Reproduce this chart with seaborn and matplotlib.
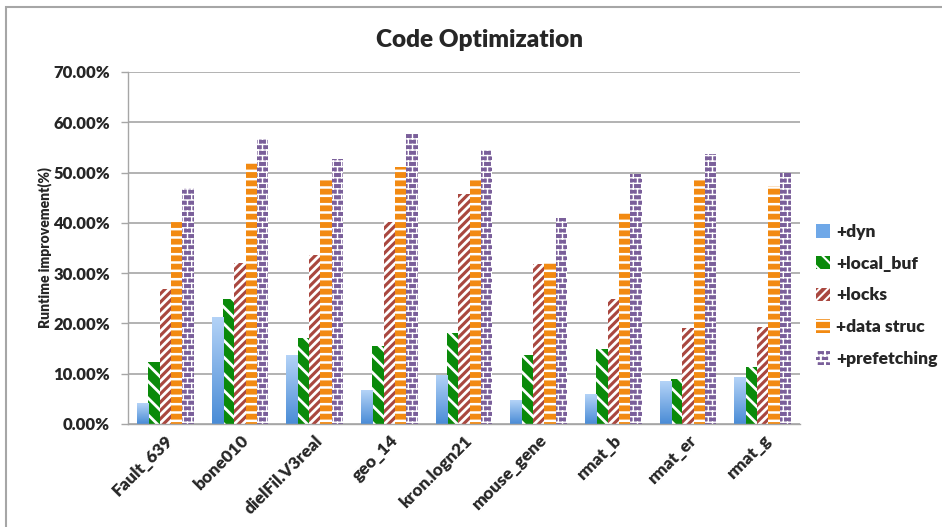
import warnings
import numpy as np
import pandas as pd
import matplotlib
matplotlib.use("Agg")
import matplotlib.pyplot as plt
from matplotlib import hatch as mhatch
from matplotlib.path import Path
from matplotlib.patches import Rectangle
from matplotlib.ticker import MultipleLocator, FuncFormatter
import seaborn as sns

warnings.filterwarnings("ignore")

# ---- data -------------------------------------------------------------
graphs = ["Fault_639", "bone010", "dielFil.V3real", "geo_14", "kron.logn21",
          "mouse_gene", "rmat_b", "rmat_er", "rmat_g"]
steps = ["+dyn", "+local_buf", "+locks", "+data struc", "+prefetching"]

dyn = [4.1, 21.3, 13.7, 6.7, 9.8, 4.7, 5.9, 8.5, 9.3]
local_buf = [12.4, 24.9, 17.1, 15.6, 18.0, 13.7, 15.0, 8.9, 11.3]
locks = [26.8, 32.1, 33.7, 40.1, 45.7, 31.8, 24.8, 19.0, 19.3]
data_struc = [40.6, 52.1, 48.7, 51.1, 48.6, 32.3, 42.1, 48.8, 47.3]
prefetching = [47.0, 56.7, 52.7, 57.9, 54.4, 40.9, 49.7, 53.7, 50.0]

colors = ["#6FA8E8", "#0A8A0A", "#A9473F", "#F28A12", "#7A5F9A"]
hatches = ["", "\\\\", "////", "--", "bbb"]
hatch_widths = [1.0, 2.0, 2.0, 1.8, 1.0]


# ---- brick hatch pattern ---------------------------------------------
class BrickHatch(mhatch.HatchPatternBase):
    def __init__(self, hatch, density):
        self.num_rows = int(hatch.count("b") * density)
        self.num_cols = int(self.num_rows * 2 // 3)
        if self.num_rows:
            self.num_vertices = (self.num_rows + 1) * 2 + self.num_rows * self.num_cols * 2
        else:
            self.num_vertices = 0

    def set_vertices_and_codes(self, vertices, codes):
        n, m = self.num_rows, self.num_cols
        k = 0
        for i in range(n + 1):
            y = i / n
            vertices[k] = (0.0, y); codes[k] = Path.MOVETO; k += 1
            vertices[k] = (1.0, y); codes[k] = Path.LINETO; k += 1
        for i in range(n):
            off = 0.5 * (i % 2)
            for j in range(m):
                x = ((j + off) / m) % 1.0
                vertices[k] = (x, i / n); codes[k] = Path.MOVETO; k += 1
                vertices[k] = (x, (i + 1) / n); codes[k] = Path.LINETO; k += 1


mhatch._hatch_types.append(BrickHatch)


def style_patch(p, color, hatch, hw):
    p.set_facecolor(color)
    p.set_hatch(hatch)
    p.set_edgecolor("white")
    p.set_linewidth(0)
    if hasattr(p, "set_hatch_linewidth"):
        p.set_hatch_linewidth(hw)


# ---- style ------------------------------------------------------------
sns.set_theme(style="white")
plt.rcParams["font.family"] = ["Lato", "DejaVu Sans"]
plt.rcParams["font.weight"] = "heavy"
plt.rcParams["hatch.color"] = "white"
plt.rcParams["hatch.linewidth"] = 1.5

df = pd.DataFrame({
    "graph": np.repeat(graphs, len(steps)),
    "step": steps * len(graphs),
    "value": np.column_stack([dyn, local_buf, locks, data_struc, prefetching]).ravel(),
})

fig = plt.figure(figsize=(9.42, 5.27), dpi=100)
ax = fig.add_axes([128 / 942, 1 - 424 / 527, 672 / 942, 352 / 527])

sns.barplot(data=df, x="graph", y="value", hue="step", order=graphs,
            hue_order=steps, palette=colors, width=0.76, saturation=1,
            errorbar=None, ax=ax, legend=False)

# hatch fill per series and gradient on the first series
for cont, col, h, hw in zip(ax.containers, colors, hatches, hatch_widths):
    for p in cont.patches:
        style_patch(p, col, h, hw)
grad = np.linspace(0, 1, 64).reshape(-1, 1)
cmap_dyn = matplotlib.colors.LinearSegmentedColormap.from_list(
    "dyn", ["#4A8CD6", "#B4D3F7"])
for p in ax.containers[0].patches:
    x0, y0 = p.get_x(), p.get_y()
    w, hgt = p.get_width(), p.get_height()
    im = ax.imshow(grad, cmap=cmap_dyn, aspect="auto", origin="lower",
                   extent=[x0, x0 + w, y0, y0 + hgt], zorder=p.get_zorder())
    im.set_clip_path(p)
ax.set_xlim(-0.5, len(graphs) - 0.5)

ax.set_ylim(0, 70)
ax.yaxis.set_major_locator(MultipleLocator(10))
ax.yaxis.set_major_formatter(FuncFormatter(lambda v, _: f"{v:.2f}%"))
ax.grid(axis="y", color="#A6A6A6", linewidth=1.2)
ax.set_axisbelow(True)
for s in ["top", "right"]:
    ax.spines[s].set_visible(False)
for s in ["left", "bottom"]:
    ax.spines[s].set_color("#A6A6A6")
    ax.spines[s].set_linewidth(1.0)

ax.set_xticks(np.arange(len(graphs) + 1) - 0.5, minor=True)
ax.tick_params(axis="x", which="major", length=0, pad=6)
ax.tick_params(axis="x", which="minor", length=5, color="#A6A6A6", width=1, direction="out")
ax.tick_params(axis="y", length=5, color="#A6A6A6", width=1, direction="out",
               left=True, labelsize=12, pad=8)
ax.set_xticks(range(len(graphs)))
ax.set_xticklabels(graphs, rotation=45, ha="right", rotation_mode="anchor",
                   fontsize=12.5, fontweight="heavy")
for t in ax.get_yticklabels():
    t.set_fontweight("heavy")
ax.set_xlabel("")
ax.set_ylabel("Runtime improvement(%)", fontsize=10, fontweight="heavy", labelpad=1)

fig.suptitle("Code Optimization", x=479 / 942, y=1 - 40 / 527, va="center",
             fontsize=17.5, fontweight="heavy")

handles = []
for c, h, hw in zip(colors, hatches, hatch_widths):
    r = Rectangle((0, 0), 1, 1)
    style_patch(r, c, h, hw)
    handles.append(r)
fig.legend(handles, steps, loc="upper left", bbox_to_anchor=(809 / 942, 1 - 217 / 527),
           frameon=False, handlelength=0.8, handleheight=0.8,
           labelspacing=0.9, handletextpad=0.35, borderaxespad=0,
           prop={"weight": "heavy", "size": 12.6})

# chart-area border
fig.add_artist(Rectangle((6 / 942, -0.1), 1.1, 1.1 - 7 / 527,
                         transform=fig.transFigure, fill=False,
                         edgecolor="#A6A6A6", linewidth=1.5))

fig.savefig("out.png", dpi=100)
